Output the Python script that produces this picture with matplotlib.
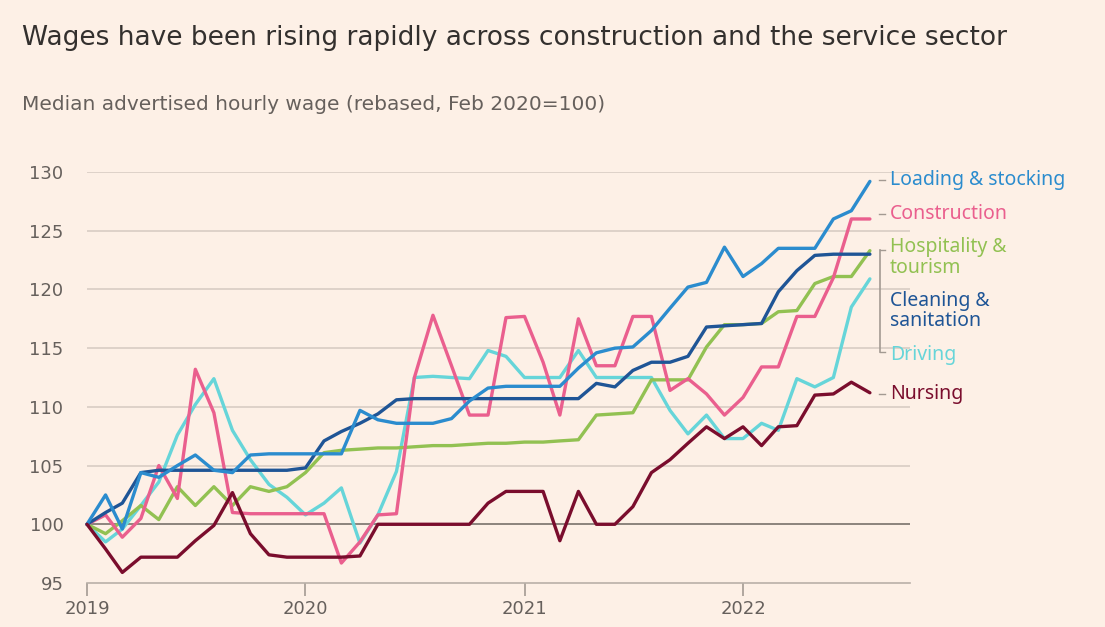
import matplotlib
matplotlib.use('Agg')
import matplotlib.pyplot as plt
import matplotlib.dates as mdates
import pandas as pd

# monthly readings, Jan 2019 .. Aug 2022 (rebased, Feb 2020 = 100)
months = pd.date_range('2019-01-01', '2022-08-01', freq='MS')

loading = [100, 102.5, 99.6, 104.4, 104.0, 105.0, 105.9, 104.6, 104.4, 105.9,
           106.0, 106.0, 106.0, 106.0, 106.0, 109.7, 108.9, 108.6, 108.6, 108.6,
           109.0, 110.5, 111.6, 111.75, 111.75, 111.75, 111.75, 113.3, 114.6, 115.0,
           115.1, 116.5, 118.4, 120.2, 120.6, 123.6, 121.1, 122.2, 123.5, 123.5,
           123.5, 126.0, 126.7, 129.2]
construction = [100, 100.8, 98.9, 100.5, 105.0, 102.2, 113.2, 109.5, 101.0, 100.9,
                100.9, 100.9, 100.9, 100.9, 96.7, 98.5, 100.8, 100.9, 112.5, 117.8,
                113.5, 109.3, 109.3, 117.6, 117.7, 113.8, 109.3, 117.5, 113.5, 113.5,
                117.7, 117.7, 111.4, 112.4, 111.1, 109.3, 110.8, 113.4, 113.4, 117.7,
                117.7, 121.0, 126.0, 126.0]
hospitality = [100, 99.2, 100.3, 101.6, 100.4, 103.2, 101.6, 103.2, 101.6, 103.2,
               102.8, 103.2, 104.4, 106.1, 106.3, 106.4, 106.5, 106.5, 106.6, 106.7,
               106.7, 106.8, 106.9, 106.9, 107.0, 107.0, 107.1, 107.2, 109.3, 109.4,
               109.5, 112.3, 112.3, 112.3, 115.1, 117.0, 117.0, 117.1, 118.1, 118.2,
               120.5, 121.1, 121.1, 123.3]
cleaning = [100, 101.0, 101.8, 104.4, 104.6, 104.6, 104.6, 104.6, 104.6, 104.6,
            104.6, 104.6, 104.8, 107.1, 107.9, 108.6, 109.4, 110.6, 110.7, 110.7,
            110.7, 110.7, 110.7, 110.7, 110.7, 110.7, 110.7, 110.7, 112.0, 111.7,
            113.1, 113.8, 113.8, 114.3, 116.8, 116.9, 117.0, 117.1, 119.8, 121.6,
            122.9, 123.0, 123.0, 123.0]
driving = [100, 98.5, 99.6, 101.6, 103.6, 107.6, 110.2, 112.4, 108.0, 105.5,
           103.4, 102.3, 100.8, 101.8, 103.1, 98.4, 100.8, 104.5, 112.5, 112.6,
           112.5, 112.4, 114.8, 114.3, 112.5, 112.5, 112.5, 114.8, 112.5, 112.5,
           112.5, 112.5, 109.7, 107.7, 109.3, 107.3, 107.3, 108.6, 108.0, 112.4,
           111.7, 112.5, 118.5, 120.9]
nursing = [100, 97.9, 95.9, 97.2, 97.2, 97.2, 98.6, 99.9, 102.7, 99.2,
           97.4, 97.2, 97.2, 97.2, 97.2, 97.3, 100, 100, 100, 100,
           100, 100, 101.8, 102.8, 102.8, 102.8, 98.6, 102.8, 100, 100,
           101.5, 104.4, 105.5, 106.9, 108.3, 107.3, 108.3, 106.7, 108.3, 108.4,
           111.0, 111.1, 112.1, 111.2]

yticks = [95, 100, 105, 110, 115, 120, 125, 130]
years = ['2019', '2020', '2021', '2022']

bg = '#fdf0e6'
grid_c = '#d8cdc4'
text_c = '#33302e'
sub_c = '#66605c'

c_load = '#2b8cce'
c_cons = '#ea5f8e'
c_hosp = '#92c152'
c_clean = '#1f5596'
c_drive = '#66d5d9'
c_nurse = '#7a0d2d'

fig = plt.figure(figsize=(11.05, 6.27), dpi=100, facecolor=bg)
ax = fig.add_axes([87 / 1105, 1 - 583 / 627, (910 - 87) / 1105, (583 - 172) / 627])
ax.set_facecolor(bg)

for v in yticks[1:]:
    ax.axhline(v, color=grid_c, lw=1.2, zorder=1)
ax.axhline(100, color='#8c847d', lw=1.4, zorder=1)

lw = 2.4
series = [(driving, c_drive), (hospitality, c_hosp), (construction, c_cons),
          (cleaning, c_clean), (loading, c_load), (nursing, c_nurse)]
for vals, col in series:
    ax.plot(months, vals, color=col, lw=lw, solid_joinstyle='round',
            solid_capstyle='round', zorder=3, clip_on=False)

ax.set_ylim(95, 130)
ax.set_xlim(pd.Timestamp('2019-01-01'), pd.Timestamp('2022-10-07'))
ax.set_yticks(yticks)
ax.set_xticks([pd.Timestamp(y + '-01-01') for y in years])
ax.xaxis.set_major_formatter(mdates.DateFormatter('%Y'))

for s in ['top', 'right', 'left']:
    ax.spines[s].set_visible(False)
ax.spines['bottom'].set_color('#b9b0a8')
ax.spines['bottom'].set_linewidth(1.2)
ax.tick_params(axis='y', length=0, pad=17, labelsize=13, labelcolor=sub_c)
ax.tick_params(axis='x', length=9, width=1.2, color='#a39a92', pad=3,
               labelsize=13, labelcolor=sub_c)

# title and subtitle
fig.text(22 / 1105, 1 - 38 / 627, 'Wages have been rising rapidly across construction and the service sector',
         fontsize=19, color=text_c, va='center', ha='left')
fig.text(22 / 1105, 1 - 104 / 627, 'Median advertised hourly wage (rebased, Feb 2020=100)',
         fontsize=14.5, color=sub_c, va='center', ha='left')

# line labels
lab_x = 890 / 1105
labels = [('Loading & stocking', 180, c_load),
          ('Construction', 214, c_cons),
          ('Hospitality &\ntourism', 257.5, c_hosp),
          ('Cleaning &\nsanitation', 311, c_clean),
          ('Driving', 355, c_drive),
          ('Nursing', 394, c_nurse)]
for txt, yp, col in labels:
    fig.text(lab_x, 1 - yp / 627, txt, color=col, fontsize=14, fontweight='medium',
             va='center', ha='left', linespacing=1.05, family='Noto Sans')


def px(x, y):
    return x / 1105, 1 - y / 627


# small connectors and bracket
conn = '#a39a92'
for yp in [180, 214, 394]:
    fig.add_artist(plt.Line2D(*zip(px(879, yp), px(885, yp)), color=conn, lw=1))
fig.add_artist(plt.Line2D(*zip(px(880, 250), px(880, 352)), color=conn, lw=1.2))
fig.add_artist(plt.Line2D(*zip(px(880, 250), px(885, 250)), color=conn, lw=1))
fig.add_artist(plt.Line2D(*zip(px(880, 352), px(885, 352)), color=conn, lw=1))

fig.savefig('out.png', dpi=100, facecolor=bg)
